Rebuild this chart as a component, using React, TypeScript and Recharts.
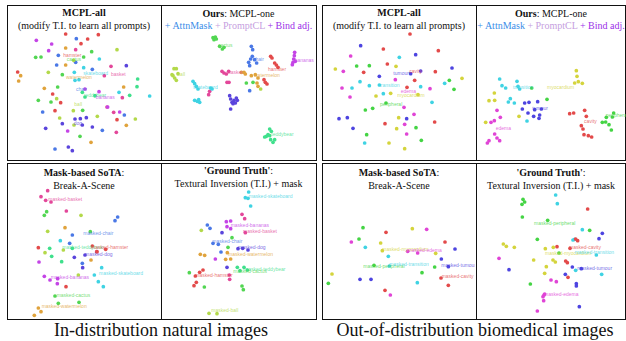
import { ScatterChart, Scatter, XAxis, YAxis } from 'recharts';

type Pt = [number, number];
type Lbl = [string, string, number, number];

// class colours
const natColors: Record<string, string> = {
  hamster: '#e34a4a',
  cactus: '#52d652',
  skateboard: '#3fd3e3',
  basket: '#e3479a',
  watermelon: '#e0a33c',
  chair: '#4a78e6',
  teddybear: '#3fe08c',
  bananas: '#c444e6',
  ball: '#b3d94a',
  dog: '#5a44dc',
};

const bioColors: Record<string, string> = {
  cavity: '#e34a4a',
  tumour: '#4d44e0',
  transition: '#3fd3e3',
  edema: '#e044d6',
  myocardium: '#d4d43c',
  peripheral: '#44d444',
};

// t-SNE embeddings (arbitrary units), one array per class
const mcplAllNat: Record<string, Pt[]> = {
  hamster: [[182, 93], [280, 95], [228, 122], [248, 108], [38, 207], [143, 273], [167, 299], [150, 323], [336, 350]],
  basket: [[212, 140], [318, 190], [298, 218], [352, 284], [326, 328], [334, 388], [306, 312]],
  chair: [[214, 107], [160, 157], [212, 178], [262, 199], [155, 186], [113, 327], [358, 336], [292, 382], [150, 438]],
  bananas: [[94, 112], [140, 123], [131, 143], [282, 266], [240, 258], [344, 327], [188, 384], [308, 312]],
  dog: [[364, 188], [172, 362], [210, 348], [226, 347], [244, 344], [232, 366], [262, 372], [122, 376], [190, 432], [202, 443]],
  cactus: [[92, 163], [108, 162], [236, 162], [260, 146], [172, 215], [158, 252], [138, 297], [100, 292], [233, 322], [225, 400]],
  teddybear: [[398, 228], [396, 251], [374, 277], [240, 282], [232, 268], [270, 278]],
  skateboard: [[283, 168], [208, 208], [236, 194], [210, 232], [342, 268], [434, 279], [222, 230]],
  watermelon: [[182, 135], [182, 186], [47, 218], [41, 234], [118, 256], [356, 252], [364, 367], [258, 418]],
  ball: [[336, 140], [206, 172], [130, 208], [155, 287], [205, 323], [277, 340], [391, 348], [207, 366], [164, 345]],
};
const mcplAllNatLabels: Lbl[] = [
  ['hamster', 'hamster', 175, 158], ['cactus', 'cactus', 185, 170], ['skateboard', 'skateboard', 235, 212],
  ['basket', 'basket', 318, 215], ['watermelon', 'watermelon', 183, 222], ['chair', 'chair', 213, 258],
  ['teddybear', 'teddybear', 237, 277], ['bananas', 'bananas', 272, 283], ['ball', 'ball', 208, 305], ['dog', 'dog', 206, 361],
];

const oursNat: Record<string, Pt[]> = {
  cactus: [[165, 104], [172, 102], [168, 110], [175, 108], [185, 130], [193, 138], [198, 133], [265, 240], [285, 238]],
  chair: [[280, 130], [284, 140], [283, 160], [278, 168], [272, 178], [275, 188], [290, 170], [296, 180], [275, 263]],
  bananas: [[410, 148], [409, 158], [407, 168], [405, 178], [403, 185], [412, 175]],
  hamster: [[338, 160], [342, 165], [350, 180], [355, 186], [360, 193], [318, 230], [322, 238], [327, 243]],
  basket: [[192, 205], [198, 210], [205, 213], [212, 205], [207, 238], [213, 238], [155, 265], [152, 275]],
  watermelon: [[250, 208], [258, 208], [262, 213], [280, 218], [292, 215], [300, 225], [297, 240], [300, 250]],
  ball: [[48, 197], [55, 197], [45, 218], [50, 225], [55, 232], [42, 215], [60, 212], [308, 258]],
  skateboard: [[105, 235], [110, 242], [115, 250], [120, 258], [158, 255], [162, 258], [110, 292], [118, 295], [125, 298], [122, 290]],
  dog: [[215, 278], [218, 288], [222, 298], [228, 292], [235, 285], [238, 292], [225, 302], [218, 318], [232, 300]],
  teddybear: [[335, 378], [340, 385], [330, 395], [325, 400], [335, 398], [320, 402], [338, 410], [345, 418], [350, 410]],
};
const oursNatLabels: Lbl[] = [
  ['cactus', 'cactus', 180, 126], ['chair', 'chair', 285, 168], ['bananas', 'bananas', 410, 173],
  ['hamster', 'hamster', 330, 198], ['basket', 'basket', 210, 208], ['watermelon', 'watermelon', 288, 218],
  ['ball', 'ball', 58, 215], ['skateboard', 'skateboard', 105, 253], ['teddybear', 'teddybear', 340, 395],
];

const mcplAllBio: Record<string, Pt[]> = {
  cavity: [[270, 93], [190, 138], [355, 143], [202, 183], [131, 208], [346, 206], [284, 232], [261, 253], [195, 362], [344, 357]],
  tumour: [[122, 128], [287, 155], [396, 195], [178, 220], [272, 212], [302, 204], [57, 347], [82, 344], [99, 376], [260, 347]],
  edema: [[92, 159], [70, 205], [66, 255], [90, 282], [226, 230], [330, 257], [252, 313], [282, 334], [254, 364], [260, 393]],
  myocardium: [[46, 198], [228, 190], [426, 226], [168, 279], [212, 271], [294, 275], [236, 344], [230, 377], [207, 420], [254, 437]],
  peripheral: [[110, 189], [148, 188], [388, 232], [402, 259], [158, 316], [136, 321], [198, 300], [288, 374], [140, 395], [304, 412]],
  transition: [[238, 163], [120, 236], [148, 248], [178, 246], [96, 255], [190, 272], [302, 251], [374, 241], [336, 298], [134, 420]],
};
const mcplAllBioLabels: Lbl[] = [
  ['tumour', 'tumour', 220, 212], ['cavity', 'cavity', 268, 204], ['transition', 'transition', 178, 247],
  ['edema', 'edema', 242, 266], ['myocardium', 'myocardium', 232, 276], ['peripheral', 'peripheral', 180, 303],
];

const oursBio: Record<string, Pt[]> = {
  transition: [[80, 228], [87, 248], [98, 255], [132, 235], [135, 250], [140, 258], [106, 297], [112, 287], [124, 300], [162, 354]],
  myocardium: [[310, 203], [312, 220], [305, 240], [316, 236], [328, 241], [64, 270], [48, 293], [65, 292], [38, 358], [138, 340]],
  peripheral: [[176, 255], [222, 289], [422, 330], [418, 342], [400, 343], [388, 358], [398, 357], [408, 365], [415, 381]],
  tumour: [[155, 300], [168, 298], [194, 296], [148, 318], [165, 330], [185, 320], [205, 318], [200, 336], [198, 346], [182, 340]],
  cavity: [[290, 332], [302, 330], [335, 322], [340, 340], [325, 368], [330, 378], [333, 395], [346, 398], [356, 402]],
  edema: [[72, 322], [82, 343], [64, 353], [54, 358], [65, 393], [72, 405], [80, 413], [48, 413], [43, 420]],
};
const oursBioLabels: Lbl[] = [
  ['transition', 'transition', 120, 252], ['myocardium', 'myocardium', 222, 252], ['tumour', 'tumour', 178, 315],
  ['cavity', 'cavity', 333, 354], ['peripheral', 'peripheral', 398, 338], ['edema', 'edema', 68, 375],
];

const basNat: Record<string, Pt[]> = {
  basket: [[128, 92], [108, 110], [122, 121], [138, 126], [184, 153], [275, 275]],
  cactus: [[125, 155], [118, 166], [150, 408], [160, 430], [222, 427], [256, 215]],
  ball: [[128, 214], [228, 166], [120, 278], [175, 270], [220, 345]],
  chair: [[338, 171], [330, 182], [202, 225], [194, 250], [232, 310]],
  skateboard: [[166, 242], [290, 323], [268, 345], [280, 365], [295, 380]],
  watermelon: [[180, 203], [258, 300], [100, 444], [108, 455], [88, 466]],
  hamster: [[100, 263], [302, 268], [262, 258], [276, 275], [183, 380]],
  teddybear: [[134, 265], [140, 289], [170, 305], [202, 265]],
  dog: [[208, 292], [233, 323], [240, 285]],
  bananas: [[102, 306], [118, 349], [135, 360], [158, 356], [157, 371]],
};
const basNatLabels: Lbl[] = [
  ['masked-basket', 'basket', 130, 117], ['masked-chair', 'chair', 235, 220], ['masked-teddybear', 'teddybear', 172, 262],
  ['masked-hamster', 'hamster', 258, 262], ['masked-dog', 'dog', 240, 282], ['masked-bananas', 'bananas', 137, 352],
  ['masked-skateboard', 'skateboard', 282, 340], ['masked-cactus', 'cactus', 155, 406], ['masked-watermelon', 'watermelon', 110, 440],
];

const gtNat: Record<string, Pt[]> = {
  skateboard: [[272, 96], [262, 113], [270, 115], [278, 138]],
  basket: [[252, 163], [260, 176], [262, 218], [214, 345], [215, 358]],
  bananas: [[205, 185], [218, 183], [207, 200], [218, 206], [172, 297]],
  chair: [[148, 195], [156, 205], [165, 250], [181, 253], [189, 276]],
  dog: [[192, 218], [240, 266], [254, 265], [270, 270], [207, 322]],
  ball: [[130, 211], [153, 460], [177, 461]],
  watermelon: [[127, 283], [140, 286], [208, 278], [203, 298], [218, 297]],
  cactus: [[222, 233], [210, 262], [94, 338], [139, 381], [252, 378], [256, 389]],
  teddybear: [[238, 322], [258, 322], [246, 332], [268, 330]],
  hamster: [[135, 330], [125, 337], [112, 348], [115, 367], [108, 377]],
};
const gtNatLabels: Lbl[] = [
  ['masked-skateboard', 'skateboard', 272, 108], ['masked-bananas', 'bananas', 218, 197], ['masked-basket', 'basket', 255, 213],
  ['masked-chair', 'chair', 163, 245], ['masked-dog', 'dog', 240, 262], ['masked-watermelon', 'watermelon', 210, 282],
  ['masked-teddybear', 'teddybear', 258, 328], ['masked-cactus', 'cactus', 226, 334], ['masked-hamster', 'hamster', 112, 345],
  ['masked-ball', 'ball', 160, 452],
];

const basBio: Record<string, Pt[]> = {
  peripheral: [[129, 203], [117, 237], [162, 316], [306, 338], [344, 321], [25, 370]],
  cavity: [[198, 217], [375, 246], [363, 354], [385, 376], [195, 391]],
  myocardium: [[277, 206], [182, 249], [187, 272], [347, 280], [36, 342]],
  edema: [[320, 208], [94, 246], [263, 274], [293, 279], [211, 405]],
  transition: [[136, 262], [205, 289], [208, 318], [292, 368]],
  tumour: [[405, 267], [364, 297], [385, 320], [120, 358], [153, 358]],
};
const basBioLabels: Lbl[] = [
  ['masked-myocardium', 'myocardium', 187, 268], ['masked-edema', 'edema', 262, 270], ['masked-peripheral', 'peripheral', 130, 318],
  ['masked-transition', 'transition', 208, 312], ['masked-tumour', 'tumour', 364, 317], ['masked-cavity', 'cavity', 365, 350],
];

const gtBio: Record<string, Pt[]> = {
  peripheral: [[150, 118], [155, 126], [147, 133], [148, 171], [224, 181], [350, 211], [193, 238], [258, 279], [172, 372]],
  transition: [[248, 105], [253, 131], [328, 209], [300, 240], [305, 238], [370, 285], [386, 343], [308, 331]],
  cavity: [[344, 147], [308, 237], [314, 242], [252, 260], [291, 265], [278, 303], [283, 308], [285, 352]],
  tumour: [[388, 220], [378, 236], [298, 321], [325, 326], [277, 343], [310, 371], [310, 378], [319, 440], [108, 329]],
  myocardium: [[91, 252], [100, 259], [124, 262], [217, 266], [241, 262], [182, 300], [240, 300], [247, 306], [220, 320], [215, 340]],
  edema: [[78, 295], [234, 360], [250, 365], [213, 405], [210, 410], [215, 402], [212, 422], [193, 453]],
};
const gtBioLabels: Lbl[] = [
  ['masked-peripheral', 'peripheral', 183, 191], ['masked-cavity', 'cavity', 288, 263], ['masked-myocardium', 'myocardium', 216, 279],
  ['masked-transition', 'transition', 305, 278], ['masked-tumour', 'tumour', 313, 324], ['masked-edema', 'edema', 213, 403],
];

const serif = '"Liberation Serif", "Times New Roman", serif';
const sans = '"Liberation Sans", Arial, sans-serif';

interface PanelProps {
  left: number;
  top: number;
  w: number;
  h: number;
  points: Record<string, Pt[]>;
  labels: Lbl[];
  colors: Record<string, string>;
}

const Panel = ({ left, top, w, h, points, labels, colors }: PanelProps) => (
  <div style={{ position: 'absolute', left, top }}>
    <ScatterChart width={w} height={h} margin={{ top: 0, right: 0, bottom: 0, left: 0 }}>
      <XAxis type="number" dataKey="x" domain={[0, w * 3]} hide />
      <YAxis type="number" dataKey="y" domain={[0, h * 3]} reversed hide />
      {Object.entries(points).map(([k, pts]) => (
        <Scatter
          key={k}
          data={pts.map(([x, y]) => ({ x, y }))}
          isAnimationActive={false}
          shape={(p: any) => <circle cx={p.cx} cy={p.cy} r={1.85} fill={colors[k]} />}
        />
      ))}
      <Scatter
        data={labels.map(([t, k, x, y]) => ({ x, y, t, k }))}
        isAnimationActive={false}
        shape={(p: any) => (
          <text x={p.cx} y={p.cy} dy="0.35em" fontSize={5} fontFamily={sans} fill={colors[p.payload.k]} fillOpacity={0.8}>
            {p.payload.t}
          </text>
        )}
      />
    </ScatterChart>
  </div>
);

const Box = ({ left, top, width, height }: { left: number; top: number; width: number; height: number }) => (
  <div style={{ position: 'absolute', left, top, width, height, border: '1px solid #111', boxSizing: 'border-box' }} />
);

const Title = ({ cx, top, children }: { cx: number; top: number; children: any }) => (
  <div
    style={{
      position: 'absolute', left: cx - 80, top, width: 160, textAlign: 'center',
      fontFamily: serif, fontSize: 10, lineHeight: '12.5px', color: '#111', whiteSpace: 'nowrap',
    }}
  >
    {children}
  </div>
);

export default function App() {
  return (
    <div style={{ position: 'absolute', left: 0, top: 0, width: 626, height: 341, background: '#fff', overflow: 'hidden' }}>
      <Box left={7} top={5} width={155} height={156} />
      <Box left={161} top={5} width={156} height={156} />
      <Box left={7} top={163} width={155} height={157} />
      <Box left={161} top={163} width={156} height={157} />
      <Box left={322} top={5} width={155} height={156} />
      <Box left={476} top={5} width={150} height={156} />
      <Box left={322} top={163} width={155} height={157} />
      <Box left={476} top={163} width={150} height={157} />

      <Panel left={5} top={3} w={155} h={158} points={mcplAllNat} labels={mcplAllNatLabels} colors={natColors} />
      <Panel left={158} top={3} w={160} h={158} points={oursNat} labels={oursNatLabels} colors={natColors} />
      <Panel left={320} top={3} w={155} h={158} points={mcplAllBio} labels={mcplAllBioLabels} colors={bioColors} />
      <Panel left={473} top={3} w={153} h={158} points={oursBio} labels={oursBioLabels} colors={bioColors} />
      <Panel left={5} top={160} w={155} h={158} points={basNat} labels={basNatLabels} colors={natColors} />
      <Panel left={158} top={160} w={160} h={158} points={gtNat} labels={gtNatLabels} colors={natColors} />
      <Panel left={320} top={160} w={155} h={158} points={basBio} labels={basBioLabels} colors={bioColors} />
      <Panel left={473} top={160} w={153} h={158} points={gtBio} labels={gtBioLabels} colors={bioColors} />

      <Title cx={84} top={7}>
        <b>MCPL-all</b>
        <br />
        (modify T.I. to learn all prompts)
      </Title>
      <Title cx={238.5} top={7.5}>
        <b>Ours</b>: MCPL-one
        <br />
        <span style={{ color: '#3b8ee8' }}>+ AttnMask</span> <span style={{ color: '#c6a0e0' }}>+ PromptCL</span>{' '}
        <span style={{ color: '#9b30e8' }}>+ Bind adj.</span>
      </Title>
      <Title cx={399} top={7}>
        <b>MCPL-all</b>
        <br />
        (modify T.I. to learn all prompts)
      </Title>
      <Title cx={551} top={7.5}>
        <b>Ours</b>: MCPL-one
        <br />
        <span style={{ color: '#3b8ee8' }}>+ AttnMask</span> <span style={{ color: '#c6a0e0' }}>+ PromptCL</span>{' '}
        <span style={{ color: '#9b30e8' }}>+ Bind adj.</span>
      </Title>
      <Title cx={84} top={167}>
        <b>Mask-based SoTA</b>:
        <br />
        Break-A-Scene
      </Title>
      <Title cx={238.5} top={165}>
        <b>'Ground Truth'</b>:
        <br />
        Textural Inversion (T.I.) + mask
      </Title>
      <Title cx={399} top={167}>
        <b>Mask-based SoTA</b>:
        <br />
        Break-A-Scene
      </Title>
      <Title cx={551} top={167}>
        <b>'Ground Truth'</b>:
        <br />
        Textural Inversion (T.I.) + mask
      </Title>

      <div style={{ position: 'absolute', left: 0, top: 320, width: 322, textAlign: 'center', fontFamily: serif, fontSize: 18, lineHeight: '21px', color: '#111' }}>
        In-distribution natural images
      </div>
      <div style={{ position: 'absolute', left: 314, top: 320, width: 322, textAlign: 'center', fontFamily: serif, fontSize: 18, lineHeight: '21px', color: '#111' }}>
        Out-of-distribution biomedical images
      </div>
    </div>
  );
}
